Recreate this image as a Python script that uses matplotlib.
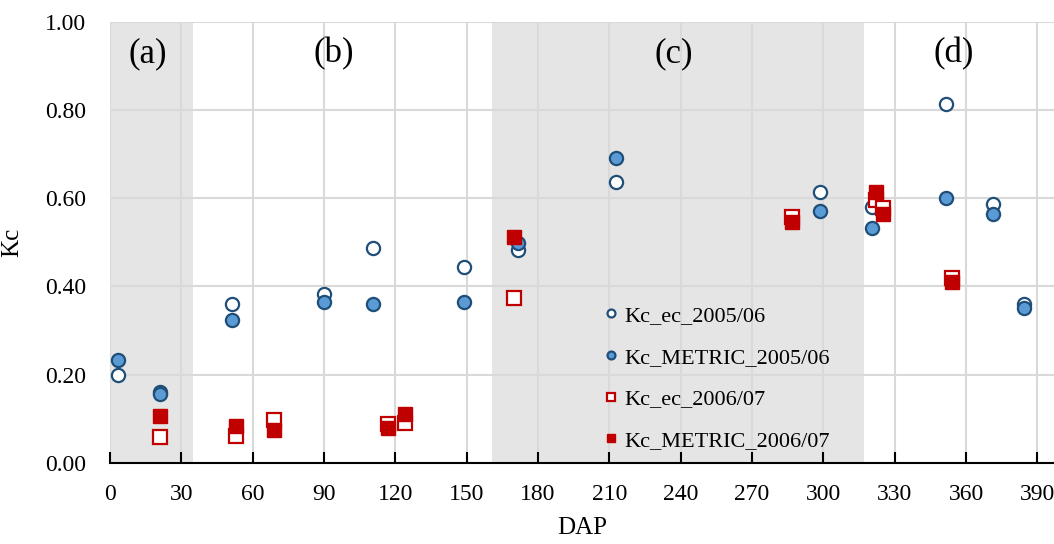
import numpy as np
import matplotlib
matplotlib.use('Agg')
import matplotlib.pyplot as plt

plt.rcParams['font.family'] = ['Liberation Serif', 'DejaVu Serif']

# Kc_ec 2005/06 and Kc_METRIC 2005/06 (same dates)
dap_05 = [3.5, 21, 51.5, 90, 110.5, 149, 171.5, 213, 298.5, 320.5, 351.5, 371.5, 384.5]
kc_ec_05 = [0.200, 0.161, 0.360, 0.383, 0.488, 0.443, 0.483, 0.637, 0.615, 0.579, 0.814, 0.588, 0.361]
kc_metric_05 = [0.233, 0.156, 0.323, 0.365, 0.360, 0.365, 0.498, 0.692, 0.570, 0.533, 0.601, 0.565, 0.351]

# Kc_ec 2006/07 and Kc_METRIC 2006/07
dap_06 = [21, 53, 69, 117, 124, 170, 287, 322, 325, 354]
kc_ec_06 = [0.059, 0.062, 0.098, 0.088, 0.090, 0.373, 0.557, 0.595, 0.578, 0.420]
kc_metric_06 = [0.106, 0.083, 0.074, 0.080, 0.111, 0.511, 0.547, 0.615, 0.565, 0.410]

# growth stages (shaded a, c)
stage_labels = ['(a)', '(b)', '(c)', '(d)']
stage_label_x = [16, 94, 237, 355]
shaded = [(0, 35), (160.5, 317)]

x_ticks = np.arange(0, 391, 30)
y_ticks = np.arange(0, 1.01, 0.2)

dark_blue = '#1F4E79'
light_blue = '#5B9BD5'
red = '#C00000'

fig = plt.figure(figsize=(10.54, 5.44), dpi=100)
ax = fig.add_axes([0.1044, 0.149, 0.8956, 0.811])

for x0, x1 in shaded:
    ax.axvspan(x0, x1, color='#E5E5E5', zorder=0, lw=0)

ax.set_axisbelow(True)
ax.grid(True, color='#D9D9D9', lw=1.5, zorder=0.5)

ms = 9.5
ax.plot(dap_05, kc_ec_05, ls='none', marker='o', ms=ms, mfc='white', mec=dark_blue, mew=1.6,
        label='Kc_ec_2005/06', zorder=3)
ax.plot(dap_05, kc_metric_05, ls='none', marker='o', ms=ms, mfc=light_blue, mec=dark_blue, mew=1.6,
        label='Kc_METRIC_2005/06', zorder=3)
ax.plot(dap_06, kc_ec_06, ls='none', marker='s', ms=ms, mfc='white', mec=red, mew=1.6,
        label='Kc_ec_2006/07', zorder=3)
ax.plot(dap_06, kc_metric_06, ls='none', marker='s', ms=ms, mfc=red, mec=red, mew=1.0,
        label='Kc_METRIC_2006/07', zorder=3)

for lab, lx in zip(stage_labels, stage_label_x):
    ax.text(lx, 0.928, lab, fontsize=25, ha='center', va='center')

ax.set_xlim(0, 397)
ax.set_ylim(0, 1.0)
ax.set_xticks(x_ticks)
ax.set_yticks(y_ticks)
ax.set_yticklabels([f'{v:.2f}' for v in y_ticks])
ax.tick_params(axis='x', direction='in', length=8, width=1.5, labelsize=17, pad=15)
ax.tick_params(axis='y', length=0, labelsize=17, pad=17)

for s in ['top', 'right', 'left']:
    ax.spines[s].set_visible(False)
ax.spines['bottom'].set_linewidth(1.5)

ax.set_xlabel('DAP', fontsize=18, labelpad=9)
ax.set_ylabel('Kc', fontsize=18, labelpad=16)

ax.legend(loc='upper left', bbox_to_anchor=(0.55, 0.475), bbox_transform=fig.transFigure,
          frameon=False, fontsize=16, markerscale=0.6, handletextpad=0.1,
          handlelength=1.0, labelspacing=0.95)

fig.savefig('out.png', dpi=100)
